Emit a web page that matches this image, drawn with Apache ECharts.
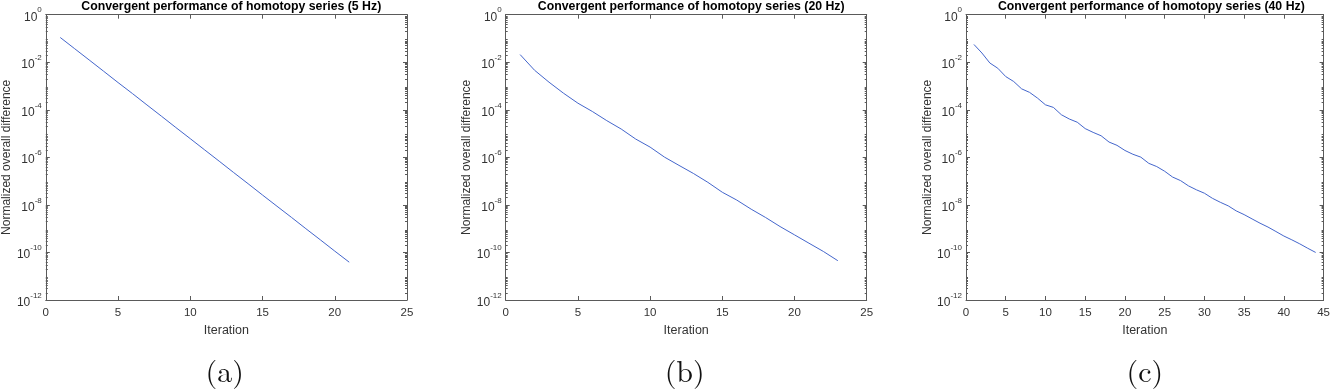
<!DOCTYPE html>
<html>
<head>
<meta charset="utf-8">
<script src="https://cdn.jsdelivr.net/npm/echarts@6/dist/echarts.min.js"></script>
<style>
html,body{margin:0;padding:0;background:#fff;}
#c{width:1333px;height:389px;}
</style>
</head>
<body>
<div id="c"></div>
<script>
// ---- Data ----
const titles = [
  'Convergent performance of homotopy series (5 Hz)',
  'Convergent performance of homotopy series (20 Hz)',
  'Convergent performance of homotopy series (40 Hz)'
];
const subCaptions = ['(a)', '(b)', '(c)'];
const xAxisMax = [25, 25, 45];
const xTickInterval = 5;
const yTickLabels = [1e-12, 1e-10, 1e-8, 1e-6, 1e-4, 1e-2, 1];

const iter5Hz = [1,2,3,4,5,6,7,8,9,10,11,12,13,14,15,16,17,18,19,20,21];
const diff5Hz = [1.1e-1,3.7e-2,1.25e-2,4.2e-3,1.4e-3,4.8e-4,1.6e-4,5.4e-5,1.8e-5,6.1e-6,
  2.05e-6,6.9e-7,2.3e-7,7.8e-8,2.6e-8,8.8e-9,3.0e-9,1.0e-9,3.4e-10,1.14e-10,3.9e-11];

const iter20Hz = [1,2,3,4,5,6,7,8,9,10,11,12,13,14,15,16,17,18,19,20,21,22,23];
const diff20Hz = [2.1e-2,4.6e-3,1.45e-3,5.0e-4,1.9e-4,8.5e-5,3.5e-5,1.55e-5,5.9e-6,2.7e-6,
  1.02e-6,4.6e-7,2.1e-7,8.9e-8,3.4e-8,1.6e-8,6.6e-9,2.95e-9,1.23e-9,5.5e-10,2.45e-10,1.1e-10,4.5e-11];

const iter40Hz = [1,2,3,4,5,6,7,8,9,10,11,12,13,14,15,16,17,18,19,20,21,22,
  23,24,25,26,27,28,29,30,31,32,33,34,35,36,37,38,39,40,41,42,43,44];
const diff40Hz = [5.6e-2,2.45e-2,9.3e-3,5.6e-3,2.5e-3,1.55e-3,7.6e-4,5.4e-4,3.1e-4,1.62e-4,
  1.26e-4,6.2e-5,4.1e-5,3.0e-5,1.62e-5,1.12e-5,8.1e-6,4.4e-6,3.2e-6,1.95e-6,
  1.35e-6,1.02e-6,5.6e-7,4.1e-7,2.6e-7,1.48e-7,1.05e-7,6.3e-8,4.3e-8,3.1e-8,
  1.9e-8,1.29e-8,9.1e-9,5.6e-9,3.9e-9,2.57e-9,1.7e-9,1.17e-9,7.6e-10,4.9e-10,
  3.4e-10,2.3e-10,1.5e-10,1.0e-10];

const seriesX = [iter5Hz, iter20Hz, iter40Hz];
const seriesY = [diff5Hz, diff20Hz, diff40Hz];

// ---- Layout ----
const W = 1333;
const grids = [
  {left: 45.5, right: W - 407, top: 14.7, bottom: 389 - 300},
  {left: 505.7, right: W - 866.7, top: 14.7, bottom: 389 - 300},
  {left: 966, right: W - 1326.7, top: 14.7, bottom: 389 - 300}
];

// minor log ticks 2..9 x 10^k
const minorTicks = [];
for (let k = -12; k < 0; k++) {
  for (let m = 2; m <= 9; m++) minorTicks.push(+(m + 'e' + k));
}

const axisColor = '#5a5a5a';
const labelColor = '#333333';
const FONT = '"Liberation Sans", Arial, sans-serif';

const xAxes = [], yAxes = [], series = [], titleArr = [], graphics = [];

grids.forEach((g, i) => {
  // bottom x
  xAxes.push({
    gridIndex: i, type: 'value', position: 'bottom', min: 0, max: xAxisMax[i], interval: xTickInterval,
    name: 'Iteration', nameLocation: 'middle', nameGap: 22,
    nameTextStyle: {fontFamily: FONT, fontSize: 12.5, color: labelColor},
    axisLine: {show: true, onZero: false, lineStyle: {color: axisColor, width: 1}},
    axisTick: {show: true, inside: true, length: 4, lineStyle: {color: axisColor}},
    axisLabel: {fontFamily: FONT, fontSize: 11.5, color: labelColor, margin: 7},
    splitLine: {show: false}
  });
  // top x
  xAxes.push({
    gridIndex: i, type: 'value', position: 'top', min: 0, max: xAxisMax[i], interval: xTickInterval,
    axisLine: {show: true, onZero: false, lineStyle: {color: axisColor, width: 1}},
    axisTick: {show: true, inside: true, length: 4, lineStyle: {color: axisColor}},
    axisLabel: {show: false}, splitLine: {show: false}
  });
  const yCommon = {gridIndex: i, type: 'log', logBase: 10, min: 1e-12, max: 1, splitLine: {show: false}};
  yAxes.push(Object.assign({}, yCommon, {
    position: 'left',
    name: 'Normalized overall difference', nameLocation: 'middle', nameGap: 31,
    nameTextStyle: {fontFamily: FONT, fontSize: 12, color: labelColor},
    axisLine: {show: true, onZero: false, lineStyle: {color: axisColor, width: 1}},
    axisTick: {show: true, inside: true, length: 4, customValues: yTickLabels, lineStyle: {color: axisColor}},
    axisLabel: {
      customValues: yTickLabels, margin: 4,
      formatter: v => '{b|10}{s|' + Math.round(Math.log10(v)) + '}',
      rich: {
        b: {fontFamily: FONT, fontSize: 12, color: labelColor, lineHeight: 17, verticalAlign: 'bottom'},
        s: {fontFamily: FONT, fontSize: 8, color: labelColor, lineHeight: 17, verticalAlign: 'top'}
      }
    }
  }));
  yAxes.push(Object.assign({}, yCommon, {
    position: 'left',
    axisLine: {show: false, onZero: false},
    axisTick: {show: true, inside: true, length: 2, customValues: minorTicks, lineStyle: {color: axisColor}},
    axisLabel: {show: false}
  }));
  yAxes.push(Object.assign({}, yCommon, {
    position: 'right',
    axisLine: {show: true, onZero: false, lineStyle: {color: axisColor, width: 1}},
    axisTick: {show: true, inside: true, length: 4, customValues: yTickLabels, lineStyle: {color: axisColor}},
    axisLabel: {show: false}
  }));
  yAxes.push(Object.assign({}, yCommon, {
    position: 'right',
    axisLine: {show: false, onZero: false},
    axisTick: {show: true, inside: true, length: 2, customValues: minorTicks, lineStyle: {color: axisColor}},
    axisLabel: {show: false}
  }));

  series.push({
    type: 'line', xAxisIndex: 2 * i, yAxisIndex: 4 * i,
    data: seriesX[i].map((x, j) => [x, seriesY[i][j]]),
    showSymbol: false, symbol: 'none', silent: true, animation: false,
    lineStyle: {color: '#4466cc', width: 1}
  });

  const cx = (g.left + (W - g.right)) / 2;
  titleArr.push({
    text: titles[i], left: cx, top: -4, textAlign: 'center',
    textStyle: {fontFamily: FONT, fontSize: 12.3, fontWeight: 'bold', color: '#000'}
  });
  graphics.push({
    type: 'text', x: cx - 1.5, y: 373,
    style: {text: subCaptions[i], fontFamily: '"Latin Modern Roman","DejaVu Serif","Liberation Serif",serif',
      fontSize: 30, fill: '#111', align: 'center', verticalAlign: 'middle'}
  });
});

const chart = echarts.init(document.getElementById('c'), null, {renderer: 'canvas'});
chart.setOption({
  backgroundColor: '#fff',
  animation: false,
  title: titleArr,
  grid: grids,
  xAxis: xAxes,
  yAxis: yAxes,
  series: series,
  graphic: graphics
});
</script>
</body>
</html>
